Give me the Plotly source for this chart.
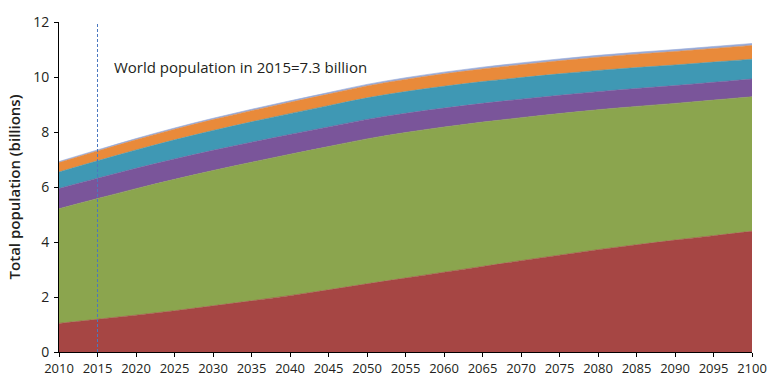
import plotly.graph_objects as go

years = list(range(2010, 2101, 5))
africa = [1.04, 1.19, 1.34, 1.50, 1.68, 1.86, 2.05, 2.26, 2.48, 2.69, 2.90, 3.11, 3.32, 3.52, 3.72, 3.90, 4.07, 4.23, 4.39]
asia = [4.17, 4.39, 4.60, 4.78, 4.92, 5.04, 5.14, 5.21, 5.27, 5.29, 5.28, 5.25, 5.20, 5.15, 5.09, 5.03, 4.97, 4.93, 4.89]
europe = [0.736, 0.738, 0.740, 0.739, 0.734, 0.728, 0.721, 0.714, 0.707, 0.699, 0.690, 0.681, 0.672, 0.664, 0.657, 0.652, 0.648, 0.646, 0.646]
latam = [0.599, 0.634, 0.667, 0.696, 0.721, 0.741, 0.757, 0.772, 0.784, 0.790, 0.793, 0.792, 0.787, 0.780, 0.771, 0.760, 0.748, 0.735, 0.721]
northam = [0.344, 0.358, 0.371, 0.384, 0.396, 0.406, 0.414, 0.422, 0.433, 0.443, 0.452, 0.460, 0.468, 0.475, 0.481, 0.486, 0.491, 0.496, 0.500]
oceania = [0.037, 0.039, 0.042, 0.045, 0.047, 0.050, 0.052, 0.055, 0.057, 0.060, 0.062, 0.064, 0.066, 0.067, 0.068, 0.069, 0.070, 0.071, 0.071]

series = [
    ("Africa", africa, "#A64644"),
    ("Asia", asia, "#8BA54E"),
    ("Europe", europe, "#7A559A"),
    ("Latin America and the Caribbean", latam, "#3F98B4"),
    ("Northern America", northam, "#E98A3A"),
    ("Oceania", oceania, "#97AAD8"),
]

fig = go.Figure()
for name, vals, col in series:
    fig.add_trace(go.Scatter(
        x=years, y=vals, name=name, mode="lines", stackgroup="one",
        line=dict(color=col, width=0.6, shape="spline"), fillcolor=col,
        hoverinfo="x+y+name",
    ))

fig.add_shape(type="line", x0=2015, x1=2015, y0=0, y1=12, xref="x", yref="y",
              line=dict(color="#4A78C0", width=1, dash="3px,2px"))
fig.add_annotation(x=2016.9, y=10.35, xref="x", yref="y", xanchor="left", yanchor="middle",
                   text="World population in 2015=7.3 billion", showarrow=False,
                   font=dict(family="Open Sans", size=15, color="#231F20"))

fig.update_layout(
    width=769, height=376,
    margin=dict(l=59, r=17, t=22, b=24, autoexpand=False),
    plot_bgcolor="white", paper_bgcolor="white",
    showlegend=False,
    font=dict(family="Open Sans", size=13, color="#231F20"),
)
fig.update_xaxes(range=[2010, 2100], tickvals=years, ticks="outside", ticklen=4,
                 tickcolor="black", showline=True, linecolor="black", linewidth=1,
                 showgrid=False, zeroline=False, tickfont=dict(size=13), automargin=False)
fig.update_yaxes(range=[0, 12], tickvals=[0, 2, 4, 6, 8, 10, 12], ticks="outside", ticklen=4,
                 tickcolor="black", showline=True, linecolor="black", linewidth=1,
                 showgrid=False, zeroline=False, tickfont=dict(size=14), automargin=False,
                 ticklabelstandoff=2,
                 title=dict(text="Total population (billions)", font=dict(size=15, weight=600), standoff=8))

fig.write_html("out.html", config={"displayModeBar": False},
               post_script="document.body.style.margin='0';document.body.style.overflow='hidden';")
